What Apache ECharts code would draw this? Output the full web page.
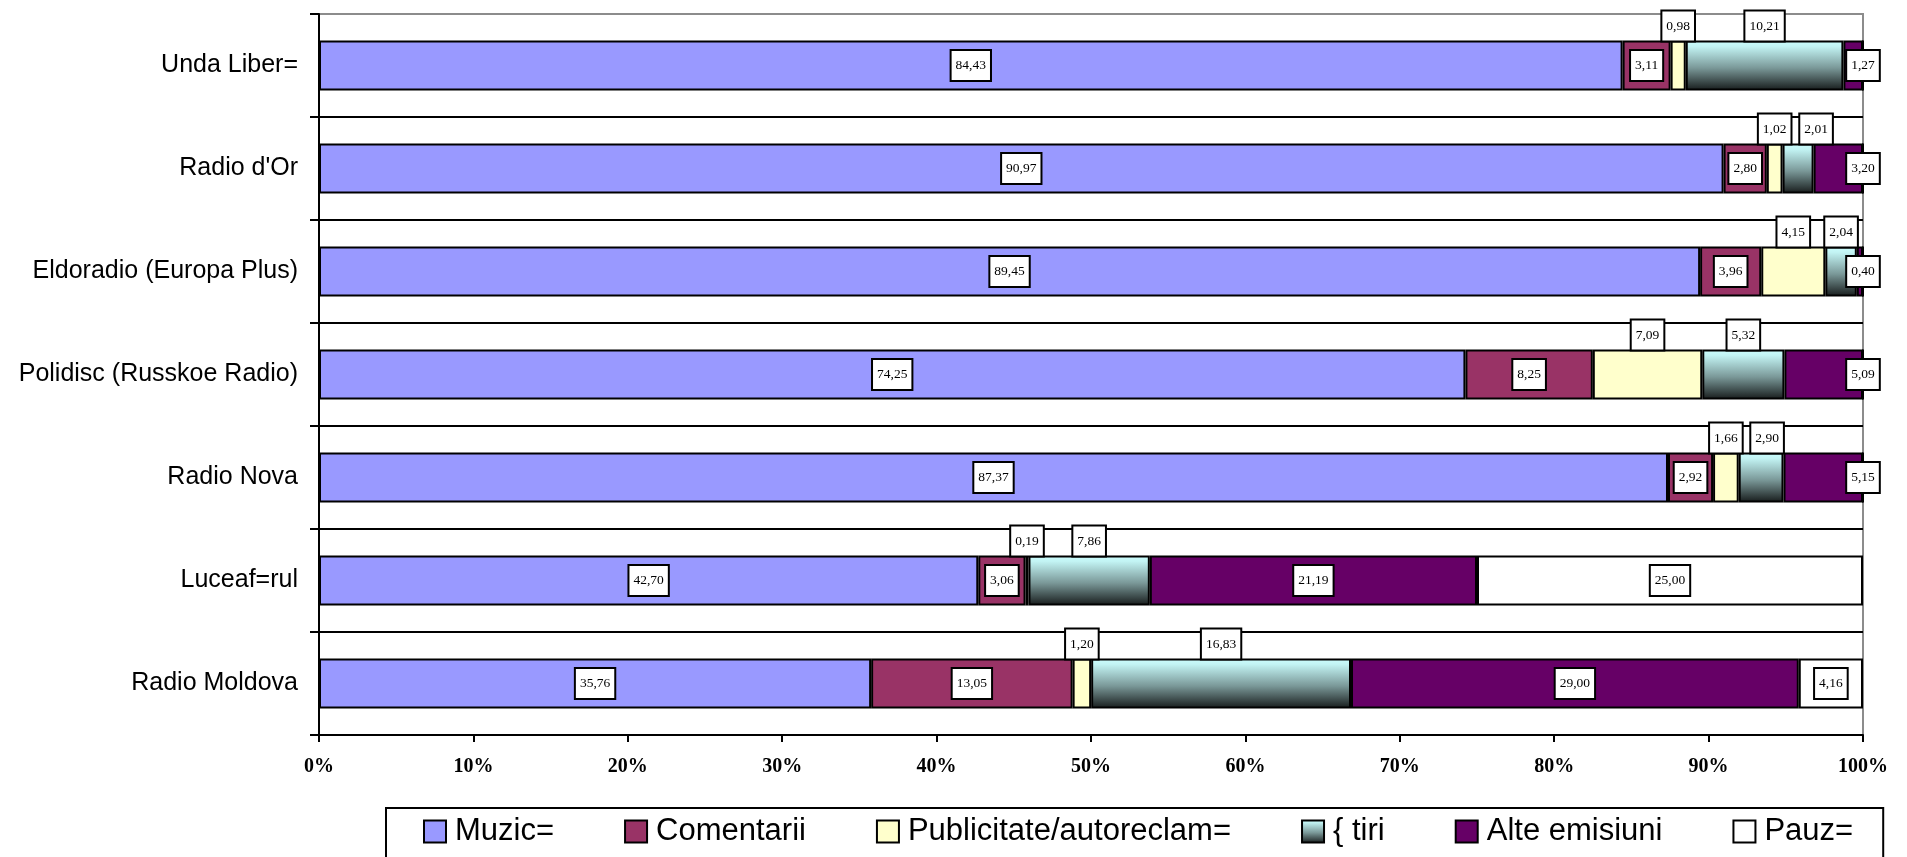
<!DOCTYPE html>
<html>
<head>
<meta charset="utf-8">
<script src="https://cdn.jsdelivr.net/npm/echarts@6/dist/echarts.min.js"></script>
<style>
html,body{margin:0;padding:0;background:#fff;}
#chart{width:1907px;height:857px;}
</style>
</head>
<body>
<div id="chart"></div>
<script>
// ---- data ----
var categories = ["Unda Liber=", "Radio d'Or", "Eldoradio (Europa Plus)", "Polidisc (Russkoe Radio)", "Radio Nova", "Luceaf=rul", "Radio Moldova"];
var seriesNames = ["Muzic=", "Comentarii", "Publicitate/autoreclam=", "{ tiri", "Alte emisiuni", "Pauz="];
var muzica      = [84.43, 90.97, 89.45, 74.25, 87.37, 42.70, 35.76];
var comentarii  = [3.11, 2.80, 3.96, 8.25, 2.92, 3.06, 13.05];
var publicitate = [0.98, 1.02, 4.15, 7.09, 1.66, 0.19, 1.20];
var stiri       = [10.21, 2.01, 2.04, 5.32, 2.90, 7.86, 16.83];
var alte        = [1.27, 3.20, 0.40, 5.09, 5.15, 21.19, 29.00];
var pauza       = [0, 0, 0, 0, 0, 25.00, 4.16];
var xTicks = [0, 10, 20, 30, 40, 50, 60, 70, 80, 90, 100];

// ---- styles ----
var chart = echarts.init(document.getElementById('chart'), null, {renderer: 'canvas'});
var stiriGradient = new echarts.graphic.LinearGradient(0, 0, 0, 1, [
  {offset: 0, color: '#ccffff'},
  {offset: 0.12, color: '#c2f3f3'},
  {offset: 0.55, color: '#7a9898'},
  {offset: 1, color: '#161a1a'}
]);
var colors = ['#9999ff', '#993366', '#ffffcc', stiriGradient, '#660066', '#ffffff'];
var labelPos = ['inside', 'inside', 'top', 'top', 'inside', 'inside'];

function fmt(v) { return v.toFixed(2).replace('.', ','); }

var labelBase = {
  show: true,
  fontFamily: 'Liberation Serif',
  fontSize: 13.5,
  lineHeight: 14,
  color: '#000',
  backgroundColor: '#fff',
  borderColor: '#000',
  borderWidth: 2,
  padding: [8, 4, 7, 4],
  distance: 0,
  formatter: function (p) { return fmt(p.value); }
};

var allValues = [muzica, comentarii, publicitate, stiri, alte, pauza];
function buildSeries(stiriShift) {
  return allValues.map(function (vals, si) {
    return {
      name: seriesNames[si],
      type: 'bar',
      stack: 'total',
      barWidth: 50,
      itemStyle: {color: colors[si], borderColor: '#000', borderWidth: 2},
      label: Object.assign({}, labelBase, {position: labelPos[si]}),
      emphasis: {disabled: true},
      data: vals.map(function (v, i) {
        var item = {value: v};
        if (v === 0) {
          item.label = {show: false};
        } else if (si === 4 && pauza[i] === 0) {
          item.label = {position: ['100%', '50%'], align: 'center', verticalAlign: 'middle'};
        } else if (si === 3 && stiriShift && stiriShift[i]) {
          item.label = {offset: [stiriShift[i], 0]};
        }
        return item;
      })
    };
  });
}

var splitColors = ['#8c8c8c'];
for (var k = 0; k < categories.length; k++) splitColors.push('#000');

var option = {
  backgroundColor: '#fff',
  animation: false,
  grid: {
    left: 319, right: 44, top: 14, bottom: 122,
    show: true, borderColor: '#8c8c8c', borderWidth: 2, backgroundColor: '#fff'
  },
  xAxis: {
    type: 'value',
    min: xTicks[0], max: xTicks[xTicks.length - 1], interval: xTicks[1] - xTicks[0],
    axisLine: {show: true, lineStyle: {color: '#000', width: 2}},
    axisTick: {show: true, length: 7, lineStyle: {color: '#000', width: 2}},
    splitLine: {show: false},
    axisLabel: {
      formatter: '{value}%', margin: 22,
      fontFamily: 'Liberation Serif', fontWeight: 'bold', fontSize: 20, color: '#000'
    }
  },
  yAxis: {
    type: 'category',
    data: categories,
    inverse: true,
    axisLine: {show: true, lineStyle: {color: '#000', width: 2}},
    axisTick: {show: true, length: 9, lineStyle: {color: '#000', width: 2}},
    splitLine: {show: true, lineStyle: {color: splitColors, width: 2}},
    axisLabel: {
      margin: 21, fontFamily: 'Liberation Sans', fontSize: 25, color: '#000'
    }
  },
  legend: {
    data: seriesNames,
    left: 386, top: 808,
    orient: 'horizontal',
    padding: [8, 30, 30, 37],
    borderColor: '#000', borderWidth: 2,
    backgroundColor: '#fff',
    itemGap: 70,
    itemWidth: 22, itemHeight: 22,
    icon: 'rect',
    selectedMode: false,
    textStyle: {fontFamily: 'Liberation Sans', fontSize: 31, color: '#000', padding: [0, 0, 0, 4], lineHeight: 31}
  },
  series: buildSeries(null)
};
chart.setOption(option);

// Avoid overlapping labels above the bars: push the "{ tiri" label right when
// it would collide with the publicity label (positions from the axis scale).
var minSep = 41;
var shifts = categories.map(function (c, i) {
  var start = muzica[i] + comentarii[i];
  var pubC = chart.convertToPixel({gridIndex: 0}, [start + publicitate[i] / 2, i])[0];
  var stC = chart.convertToPixel({gridIndex: 0}, [start + publicitate[i] + stiri[i] / 2, i])[0];
  var d = stC - pubC;
  return d < minSep ? Math.round(minSep - d) : 0;
});
chart.setOption({series: buildSeries(shifts)});
</script>
</body>
</html>
